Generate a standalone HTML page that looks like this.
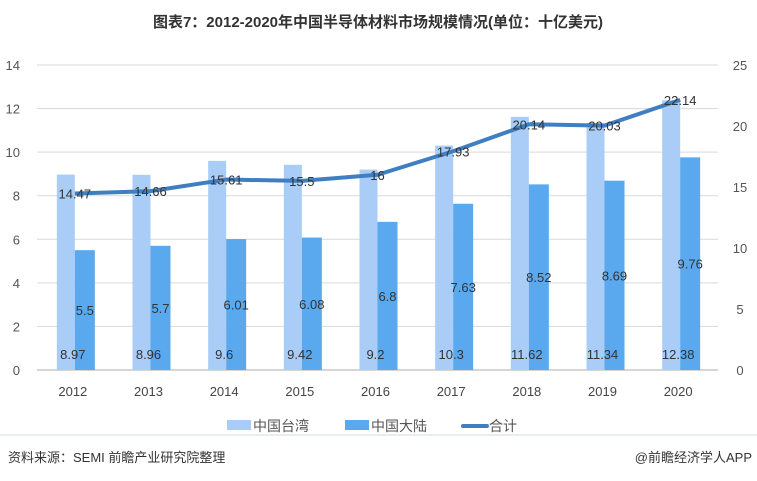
<!DOCTYPE html>
<html><head><meta charset="utf-8"><style>
body{margin:0;background:#fff;font-family:"Liberation Sans","Noto Sans CJK SC",sans-serif;}
svg text{font-family:"Liberation Sans","Noto Sans CJK SC",sans-serif;}
</style></head><body>
<svg id="c" width="757" height="476" xmlns="http://www.w3.org/2000/svg">
<text x="378" y="27" text-anchor="middle" font-size="15" font-weight="bold" fill="#333">图表7：2012-2020年中国半导体材料市场规模情况(单位：十亿美元)</text>
<g id="grid"></g><g id="bars"></g><g id="line"></g><g id="labels"></g>
<line x1="0" y1="435" x2="757" y2="435" stroke="#e8edf3" stroke-width="2"/>
<text x="8" y="462" font-size="13" fill="#333">资料来源：SEMI 前瞻产业研究院整理</text>
<text x="752" y="462" font-size="13" fill="#333" text-anchor="end">@前瞻经济学人APP</text>
</svg>
<script>
const years=["2012","2013","2014","2015","2016","2017","2018","2019","2020"];
const taiwan=[8.97,8.96,9.6,9.42,9.2,10.3,11.62,11.34,12.38];
const mainland=[5.5,5.7,6.01,6.08,6.8,7.63,8.52,8.69,9.76];
const total=[14.47,14.66,15.61,15.5,16,17.93,20.14,20.03,22.14];
const leftTicks=[0,2,4,6,8,10,12,14];
const rightTicks=[0,5,10,15,20,25];
const NS="http://www.w3.org/2000/svg";
const x0=37,x1=718,y0=370,yTop=65;
const band=(x1-x0)/years.length;
const cx=i=>x0+band*(i+0.5);
const yL=v=>y0-(y0-yTop)*v/14;
const yR=v=>y0-(y0-yTop)*v/25;
function mk(tag,attrs,parent,text){const e=document.createElementNS(NS,tag);for(const k in attrs)e.setAttribute(k,attrs[k]);if(text!==undefined)e.textContent=text;document.getElementById(parent).appendChild(e);return e;}
leftTicks.forEach(t=>{
 const l=mk('line',{x1:x0,x2:x1,y1:yL(t),y2:yL(t),stroke:t===0?'#c8c8c8':'#d9d9d9','stroke-width':t===0?1.5:1},'grid');
 
 
 const tx=mk('text',{x:20,y:yL(t)+5,'text-anchor':'end','font-size':13,fill:'#555'},'grid',t);
 
 
});
rightTicks.forEach(t=>{
 const tx=mk('text',{x:740,y:yR(t)+5,'text-anchor':'middle','font-size':13,fill:'#555'},'grid',t);
 
 
});
years.forEach((y,i)=>{
 const a=mk('rect',{x:cx(i)-18,y:yL(taiwan[i]),width:18,height:y0-yL(taiwan[i]),fill:'#a9cdf6'},'bars');
 
 
 const b=mk('rect',{x:cx(i),y:yL(mainland[i]),width:20,height:y0-yL(mainland[i]),fill:'#5aa8ee'},'bars');
 
 
 const xl=mk('text',{x:cx(i)-2,y:396,'text-anchor':'middle','font-size':13,fill:'#444'},'labels',y);
 
 
 const t1=mk('text',{x:cx(i)-2,y:359,'text-anchor':'middle','font-size':13,fill:'#333'},'labels',taiwan[i]);
 
 
 const t2=mk('text',{x:cx(i)+10,y:yL(mainland[i]/2)+5,'text-anchor':'middle','font-size':13,fill:'#333'},'labels',mainland[i]);
 
 
 const t3=mk('text',{x:cx(i),y:yR(total[i])+5,'text-anchor':'middle','font-size':13,fill:'#333'},'labels',total[i]);
 
 
});
const pl=mk('polyline',{points:total.map((v,i)=>cx(i)+','+yR(v)).join(' '),fill:'none',stroke:'#3f7fc1','stroke-width':4,'stroke-linejoin':'round'},'line');


// legend
const lg=[["中国台湾","#a9cdf6",227,'rect'],["中国大陆","#5aa8ee",345,'rect'],["合计","#3f7fc1",463,'line']];
lg.forEach(([n,c,x,t])=>{
 const s=t==='rect'?mk('rect',{x:x,y:420,width:24,height:10,fill:c},'labels'):mk('line',{x1:x,x2:x+24,y1:426,y2:426,stroke:c,'stroke-width':4,'stroke-linecap':'round'},'labels');
 
 
 const tx=mk('text',{x:x+26,y:431,'font-size':14,fill:'#555'},'labels',n);
 
 
});
</script>
</body></html>
